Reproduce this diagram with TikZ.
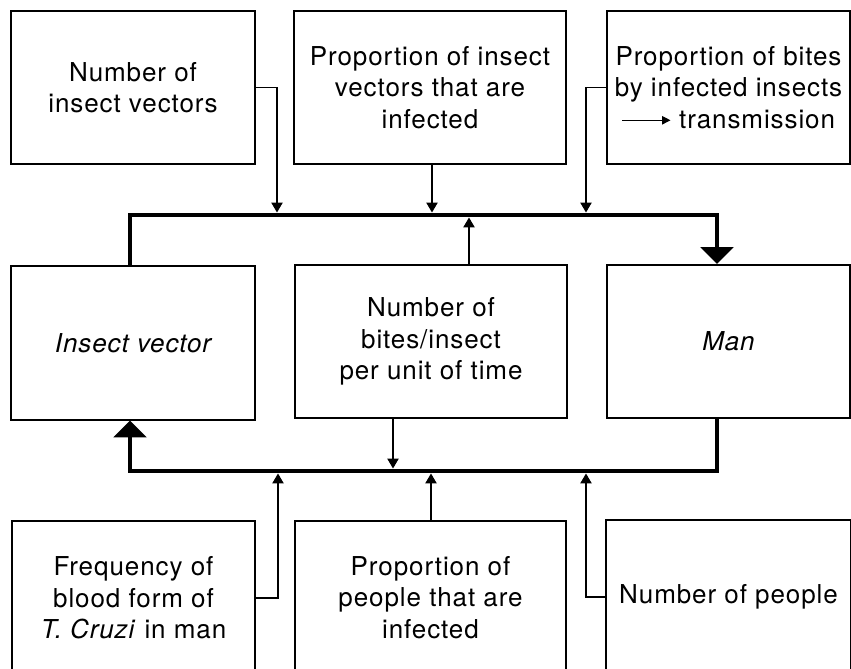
\documentclass[tikz,border=0pt]{standalone}
\usepackage{fontspec}
\setmainfont{TeX Gyre Heros}[LetterSpace=3.5]
\usetikzlibrary{arrows.meta}
\tikzset
{
  box/.style={draw,line width=1.4pt,inner sep=0pt,align=center,minimum height=3.825cm,
    font=\fontsize{18.5}{22.5}\selectfont},
  bus/.style={line width=3.5pt,-{Triangle[width=23pt,length=12pt]}},
  link/.style={line width=0.8pt,-{Triangle[width=8pt,length=7pt]}}
}
\newcommand{\trarrow}{\tikz[baseline=-0.6ex]\draw[line width=0.8pt,-{Triangle[width=6pt,length=6pt]}] (0,0) -- (1.2cm,0);}

\begin{document}
\begin{tikzpicture}[x=0.025cm,y=-0.025cm]
        \useasboundingbox (0,0) rectangle (851,669);
        \clip (0,0) rectangle (851,669);

        % Boxes
        \node[box,minimum width=6.1cm] (nvec) at (133,87.5) {Number of\\insect vectors};
        \node[box,minimum width=6.8cm] (pinf) at (430,87.5) {Proportion of insect\\vectors that are\\infected};
        \node[box,minimum width=6.075cm] (pbite) at (728.5,87.5) {Proportion of bites\\by infected insects\\\trarrow\ transmission};
        \node[box,minimum width=6.1cm] (insect) at (133,343) {\itshape Insect vector};
        \node[box,minimum width=6.8cm] (bites) at (431,341.5) {Number of\\bites/insect\\per unit of time};
        \node[box,minimum width=6.075cm] (man) at (728.5,341.5) {\itshape Man};
        \node[box,minimum width=6.075cm] (freq) at (133.5,598) {Frequency of\\blood form of\\\textit{T.\ Cruzi} in man};
        \node[box,minimum width=6.775cm] (ppl) at (430.5,597.5) {Proportion of\\people that are\\infected};
        \node[box,minimum width=6.125cm] (npeop) at (728.5,597) {Number of people};

        % Main loop
        \coordinate (tl) at (130,215);
        \coordinate (tr) at (717,215);
        \coordinate (bl) at (130,471);
        \coordinate (br) at (717,471);
        \draw[bus] (insect.north -| tl) -- (tl) -- (tr) -- (man.north -| tr);
        \draw[bus] (man.south -| br) -- (br) -- (bl) -- (insect.south -| bl);

        % Inputs to the loop
        \coordinate (a1) at (277,212.5);
        \coordinate (a2) at (432,212.5);
        \coordinate (a3) at (586,212.5);
        \coordinate (b1) at (469,217.5);
        \coordinate (c1) at (393,468.5);
        \coordinate (d1) at (278,473.5);
        \coordinate (d2) at (431,473.5);
        \coordinate (d3) at (586,473.5);
        \draw[link] (nvec.east) -| (a1);
        \draw[link] (pinf.south -| a2) -- (a2);
        \draw[link] (pbite.west) -| (a3);
        \draw[link] (bites.north -| b1) -- (b1);
        \draw[link] (bites.south -| c1) -- (c1);
        \draw[link] (freq.east) -| (d1);
        \draw[link] (ppl.north -| d2) -- (d2);
        \draw[link] (npeop.west) -| (d3);
\end{tikzpicture}
\end{document}
